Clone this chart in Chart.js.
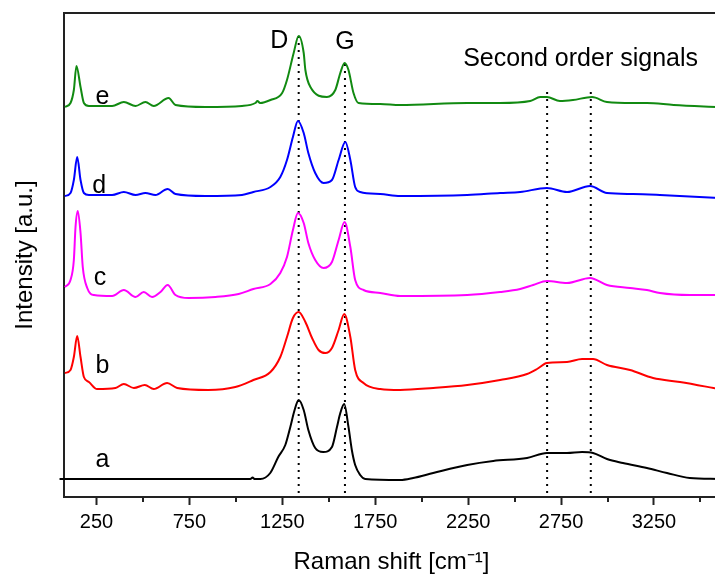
<!DOCTYPE html>
<html lang="en">
<head>
<meta charset="UTF-8">
<title>Raman spectra a-e</title>
<script src="https://cdn.jsdelivr.net/npm/chart.js"></script>
<style>
  html, body { margin: 0; padding: 0; background: #fff; overflow: hidden; }
  #wrap { width: 730px; height: 576px; }
</style>
</head>
<body>
<div id="wrap"><canvas id="ramanChart"></canvas></div>
<script>
// spectra: Raman shift (cm-1) and stacked intensity (a.u.)
const aShift = [51, 1078, 1090, 1100, 1132, 1185, 1228, 1266, 1293, 1316, 1338, 1365, 1390, 1427, 1470, 1517, 1544, 1562, 1583, 1606, 1624, 1642, 1669, 1696, 1884, 1954, 2062, 2245, 2385, 2567, 2674, 2782, 2863, 2922, 2997, 3083, 3212, 3320, 3443, 3600];
const aInt   = [18, 18, 19.5, 18, 18, 24, 40, 52, 70, 87, 97, 87, 67, 49, 45, 50, 70, 84, 93, 70, 47, 32, 22, 18, 17, 19, 24, 32, 36, 39, 44, 44, 45, 44, 38, 34, 29, 24, 19, 18];

const bShift = [80, 110, 128, 146, 164, 182, 209, 253, 352, 397, 451, 510, 558, 630, 684, 852, 997, 1094, 1186, 1239, 1275, 1307, 1338, 1374, 1410, 1445, 1481, 1517, 1553, 1583, 1616, 1642, 1687, 1777, 1884, 2062, 2245, 2422, 2567, 2621, 2674, 2782, 2863, 2922, 2997, 3121, 3245, 3390, 3600];
const bInt   = [124, 127, 140, 161, 140, 120, 115, 108, 109, 113, 109, 112, 108, 114, 109, 107, 110, 117, 125, 140, 160, 179, 185, 175, 159, 147, 144, 149, 167, 183, 160, 127, 114, 108, 107, 109, 112, 117, 123, 128, 134, 135, 138, 138, 132, 127, 119, 115, 108];

const cShift = [80, 110, 128, 137, 149, 164, 176, 200, 236, 334, 397, 460, 504, 549, 594, 633, 675, 746, 890, 1015, 1094, 1186, 1239, 1275, 1307, 1334, 1365, 1390, 1427, 1472, 1517, 1553, 1585, 1616, 1642, 1687, 1777, 1884, 2245, 2422, 2530, 2600, 2674, 2782, 2906, 2997, 3121, 3212, 3282, 3443, 3600];
const cInt   = [210, 217, 237, 270, 286, 264, 230, 209, 202, 201, 207, 200, 205, 200, 205, 212, 202, 199, 200, 203, 208, 213, 224, 240, 267, 284, 274, 254, 237, 229, 235, 257, 275, 250, 217, 207, 204, 201, 202, 205, 208, 212, 216, 214, 219, 212, 209, 207, 204, 202, 202];

const dShift = [80, 110, 128, 146, 164, 182, 209, 334, 397, 460, 513, 567, 633, 675, 836, 1033, 1094, 1186, 1239, 1275, 1307, 1334, 1365, 1390, 1427, 1472, 1517, 1553, 1589, 1616, 1642, 1669, 1777, 1884, 2245, 2422, 2530, 2674, 2782, 2906, 2997, 3137, 3282, 3600];
const dInt   = [301, 304, 317, 340, 317, 304, 302, 302, 305, 302, 304, 302, 308, 303, 301, 302, 305, 310, 320, 337, 360, 376, 364, 344, 324, 314, 317, 337, 355, 337, 310, 305, 303, 301, 302, 304, 305, 309, 305, 311, 304, 303, 302, 299];

const eShift = [80, 110, 128, 142, 164, 182, 209, 334, 397, 460, 513, 558, 638, 675, 836, 1033, 1105, 1116, 1130, 1186, 1249, 1275, 1311, 1338, 1365, 1374, 1401, 1490, 1535, 1562, 1585, 1606, 1633, 1660, 1777, 1884, 2245, 2422, 2584, 2638, 2674, 2744, 2814, 2917, 2997, 3137, 3212, 3356, 3600];
const eInt   = [390, 394, 407, 431, 410, 394, 391, 391, 395, 391, 395, 391, 399, 392, 390, 391, 394, 396, 394, 397, 404, 417, 444, 461, 444, 427, 410, 400, 407, 424, 434, 427, 404, 394, 393, 392, 394, 394, 396, 400, 400, 396, 397, 400, 395, 394, 394, 392, 390];

// dotted guide lines: D, G and the two second order bands
const guideShift = [1338, 1587, 2675, 2910];
const guideTop = [461, 434, 407, 407];
const guideBottom = 4;

// x ticks: labelled every 500 from 250, minor ticks in between
const majorTicks = [250, 750, 1250, 1750, 2250, 2750, 3250];
const minorTicks = [500, 1000, 1500, 2000, 2500, 3000, 3500];

// text in the plot, placed in data units (left edge, baseline)
const noteText  = ['a', 'b', 'c', 'd', 'e', 'D', 'G', 'Second order signals'];
const noteShift = [245, 245, 235, 227, 245, 1185, 1535, 2223];
const noteLevel = [30, 124, 212, 304, 393, 449, 448, 431];

const FONT = '"Liberation Sans", Arial, sans-serif';

function pts(xs, ys) {
    return xs.map((v, i) => ({ x: v, y: ys[i] }));
}

function spectrum(label, xs, ys, color) {
    return {
        label: label,
        data: pts(xs, ys),
        borderColor: color,
        borderWidth: 2,
        pointRadius: 0,
        fill: false,
        cubicInterpolationMode: 'monotone'
    };
}

const datasets = [
    Object.assign(spectrum('a', aShift, aInt, '#000000'), { clip: false }),
    spectrum('b', bShift, bInt, '#ff0000'),
    spectrum('c', cShift, cInt, '#ff00ff'),
    spectrum('d', dShift, dInt, '#0000ff'),
    spectrum('e', eShift, eInt, '#118a11')
];

guideShift.forEach((v, i) => {
    datasets.push({
        label: 'guide' + i,
        data: [{ x: v, y: guideBottom }, { x: v, y: guideTop[i] }],
        borderColor: '#000000',
        borderWidth: 2,
        borderDash: [2, 5],
        pointRadius: 0,
        fill: false
    });
});

// texts and short minor ticks
const extras = {
    id: 'extras',
    afterDatasetsDraw(chart) {
        const { ctx, scales: { x, y } } = chart;
        ctx.save();
        ctx.strokeStyle = '#222';
        ctx.lineWidth = 2;
        minorTicks.forEach(v => {
            const px = Math.round(x.getPixelForValue(v));
            ctx.beginPath();
            ctx.moveTo(px, y.bottom);
            ctx.lineTo(px, y.bottom + 5);
            ctx.stroke();
        });
        ctx.fillStyle = '#000';
        ctx.font = '25px ' + FONT;
        ctx.textAlign = 'left';
        ctx.textBaseline = 'alphabetic';
        noteText.forEach((t, i) => {
            ctx.fillText(t, x.getPixelForValue(noteShift[i]), y.getPixelForValue(noteLevel[i]));
        });
        ctx.restore();
    }
};

new Chart(document.getElementById('ramanChart'), {
    type: 'line',
    data: { datasets: datasets },
    plugins: [extras],
    options: {
        responsive: true,
        maintainAspectRatio: false,
        animation: false,
        devicePixelRatio: 1,
        layout: { padding: { top: 13, right: 11, left: 0, bottom: 0 } },
        plugins: { legend: { display: false }, tooltip: { enabled: false } },
        scales: {
            x: {
                type: 'linear',
                position: 'bottom',
                min: 75,
                max: 3600,
                afterBuildTicks: (s) => { s.ticks = majorTicks.map(v => ({ value: v })); },
                afterFit: (s) => { s.height = 79; },
                ticks: {
                    autoSkip: false,
                    maxRotation: 0,
                    padding: 5,
                    color: '#000',
                    font: { family: FONT, size: 20 },
                    callback: (v) => String(v)
                },
                grid: {
                    drawOnChartArea: false,
                    drawTicks: true,
                    tickLength: 8,
                    tickWidth: 2,
                    tickColor: '#222'
                },
                border: { display: true, color: '#222', width: 2 },
                title: {
                    display: true,
                    text: 'Raman shift [cm⁻¹]',
                    color: '#000',
                    font: { family: FONT, size: 24, lineHeight: 1.1 },
                    padding: { top: 0, bottom: 0 }
                }
            },
            xTop: {
                type: 'linear',
                position: 'top',
                min: 75,
                max: 3600,
                afterFit: (s) => { s.height = 0; },
                ticks: { display: false },
                grid: { display: false },
                border: { display: true, color: '#222', width: 2 }
            },
            y: {
                min: 0,
                max: 484,
                afterFit: (s) => { s.width = 64; },
                ticks: { display: false },
                grid: { display: false },
                border: { display: true, color: '#222', width: 2 },
                title: {
                    display: true,
                    text: 'Intensity [a.u.]',
                    color: '#000',
                    font: { family: FONT, size: 24, lineHeight: 1.1 },
                    padding: { top: 12, bottom: 0 }
                }
            }
        }
    }
});
</script>
</body>
</html>
